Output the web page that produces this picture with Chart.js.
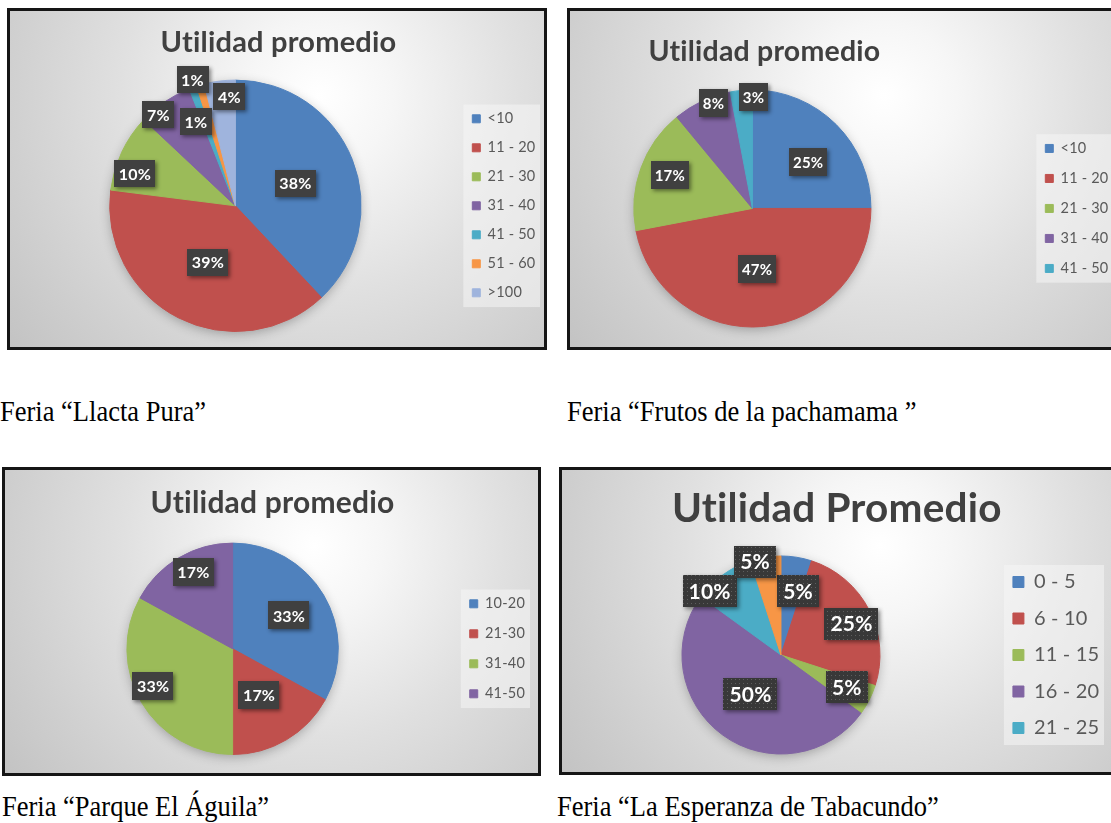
<!DOCTYPE html>
<html>
<head>
<meta charset="utf-8">
<script src="https://cdn.jsdelivr.net/npm/chart.js@4.4.1/dist/chart.umd.min.js"></script>
<style>
  html, body { margin: 0; padding: 0; overflow: hidden; background: #fff; }
  body { width: 1111px; height: 823px; position: relative; }
  .frame {
    position: absolute; box-sizing: border-box; overflow: hidden;
    border: 3px solid #151515;
    background: radial-gradient(circle farthest-corner at 58% 25%, #ffffff 0%, #f6f6f6 18%, #e0e0e0 50%, #c3c3c3 100%);
  }
  .frame canvas { position: absolute; top: 0; }
  .caption {
    position: absolute; font-family: "Liberation Serif", "Times New Roman", serif;
    font-size: 26.5px; line-height: 30px; color: #000; white-space: pre;
    transform: scaleY(1.12); transform-origin: 0 23px;
  }
</style>
</head>
<body>

<div class="frame" style="left:7px;top:8px;width:540px;height:342px">
  <canvas id="llacta" width="534" height="336" style="left:0;width:534px;height:336px"></canvas>
</div>
<div class="frame" style="left:567px;top:8px;width:547px;height:342px">
  <canvas id="frutos" width="642" height="336" style="left:-95px;width:642px;height:336px"></canvas>
</div>
<div class="frame" style="left:2px;top:467px;width:539px;height:309px">
  <canvas id="aguila" width="533" height="303" style="left:0;width:533px;height:303px"></canvas>
</div>
<div class="frame" style="left:559px;top:467px;width:555px;height:308px">
  <canvas id="tabacundo" width="549" height="302" style="left:0;width:549px;height:302px"></canvas>
</div>

<div class="caption" style="left:0px;top:397px">Feria “Llacta Pura”</div>
<div class="caption" style="left:567px;top:397px">Feria “Frutos de la pachamama ”</div>
<div class="caption" style="left:2px;top:792px">Feria “Parque El Águila”</div>
<div class="caption" style="left:557px;top:792px">Feria “La Esperanza de Tabacundo”</div>

<script>
// --- data (percent shares) ---
const llactaLabels = ["<10", "11 - 20", "21 - 30", "31 - 40", "41 - 50", "51 - 60", ">100"];
const llactaValues = [38, 39, 10, 7, 1, 1, 4];

const frutosLabels = ["<10", "11 - 20", "21 - 30", "31 - 40", "41 - 50"];
const frutosValues = [25, 47, 17, 8, 3];

const aguilaLabels = ["10-20", "21-30", "31-40", "41-50"];
const aguilaValues = [33, 17, 33, 17];

// last (orange) slice has no entry in the original legend
const tabacundoLabels = ["0 - 5", "6 - 10", "11 - 15", "16 - 20", "21 - 25", ""];
const tabacundoValues = [5, 25, 5, 50, 10, 5];

// Office palette
const BLUE = "#4f81bd", RED = "#c0504d", GREEN = "#9bbb59", PURPLE = "#8064a2",
      CYAN = "#4bacc6", ORANGE = "#f79646", LIGHTBLUE = "#9fb4dd";

Chart.defaults.font.family = "Lato, 'Open Sans', sans-serif";

// dotted texture for the last chart's label boxes
function dotPattern() {
  const c = document.createElement("canvas");
  c.width = 4; c.height = 4;
  const g = c.getContext("2d");
  g.fillStyle = "#383838"; g.fillRect(0, 0, 4, 4);
  g.fillStyle = "#5e5e5e"; g.fillRect(1, 1, 1, 1);
  return g.createPattern(c, "repeat");
}

// legend backdrop, pie shadow, dark percentage boxes (Excel style)
const excelLook = {
  id: "excelLook",
  afterLayout(chart, args, opts) {
    // nudge the title sideways where the original is off-centre
    const t = chart.titleBlock;
    if (t && opts.titleShift) { t.left += opts.titleShift; t.right += opts.titleShift; }
  },
  beforeDraw(chart) {
    const ctx = chart.ctx;
    ctx.letterSpacing = "0.2px"; // avoids Lato's "ti" ligature
    const hb = chart.legend && chart.legend.legendHitBoxes;
    if (!hb || !hb.length) return;
    let l = Infinity, t = Infinity, r = -Infinity, b = -Infinity;
    hb.forEach(h => {
      l = Math.min(l, h.left); t = Math.min(t, h.top);
      r = Math.max(r, h.left + h.width); b = Math.max(b, h.top + h.height);
    });
    ctx.save();
    ctx.fillStyle = "rgba(245,245,245,0.55)";
    ctx.fillRect(l - 9, t - 7, r - l + 15, b - t + 14);
    ctx.restore();
  },
  beforeDatasetsDraw(chart) {
    const arc = chart.getDatasetMeta(0).data[0];
    if (!arc) return;
    const ctx = chart.ctx;
    ctx.save();
    ctx.shadowColor = "rgba(0,0,0,0.30)";
    ctx.shadowBlur = 12;
    ctx.shadowOffsetY = 3;
    ctx.fillStyle = "#999";
    ctx.beginPath();
    ctx.arc(arc.x, arc.y, arc.outerRadius - 1, 0, Math.PI * 2);
    ctx.fill();
    ctx.restore();
  },
  afterDatasetsDraw(chart, args, opts) {
    const ctx = chart.ctx;
    const values = chart.data.datasets[0].data;
    const fill = opts.dotted ? dotPattern() : "#404040";
    chart.getDatasetMeta(0).data.forEach((arc, i) => {
      const { x, y, startAngle, endAngle, outerRadius } =
        arc.getProps(["x", "y", "startAngle", "endAngle", "outerRadius"], true);
      const a = (startAngle + endAngle) / 2 + (opts.shift[i] || 0) * Math.PI / 180;
      const d = outerRadius * opts.radial[i];
      const cx = x + Math.cos(a) * d, cy = y + Math.sin(a) * d;
      const text = values[i] + "%";
      ctx.save();
      ctx.font = "bold " + opts.size + "px Lato, sans-serif";
      const w = ctx.measureText(text).width + opts.padX * 2;
      const h = opts.size + opts.padY * 2;
      ctx.shadowColor = "rgba(0,0,0,0.45)";
      ctx.shadowBlur = 4;
      ctx.shadowOffsetX = 2;
      ctx.shadowOffsetY = 2;
      ctx.fillStyle = fill;
      ctx.fillRect(Math.round(cx - w / 2), Math.round(cy - h / 2), Math.round(w), Math.round(h));
      ctx.restore();
      ctx.save();
      ctx.font = "bold " + opts.size + "px Lato, sans-serif";
      ctx.fillStyle = "#ffffff";
      ctx.textAlign = "center";
      ctx.textBaseline = "middle";
      ctx.fillText(text, cx, cy + 1);
      ctx.restore();
    });
  }
};

function pie(id, labels, values, colors, o) {
  return new Chart(document.getElementById(id), {
    type: "pie",
    plugins: [excelLook],
    data: {
      labels: labels,
      datasets: [{ data: values, backgroundColor: colors, borderColor: colors, borderWidth: 1 }]
    },
    options: {
      responsive: false,
      animation: false,
      events: [],
      layout: { padding: o.padding },
      plugins: {
        title: {
          display: true,
          text: o.title,
          color: "#404040",
          fullSize: o.titleFull,
          font: { size: o.titleSize, weight: "bold" },
          padding: o.titlePad
        },
        legend: {
          position: "right",
          fullSize: false,
          labels: {
            color: "#595959",
            font: { size: o.legendSize },
            boxWidth: o.box,
            boxHeight: o.box,
            padding: o.legendPad,
            filter: item => item.text !== ""
          }
        },
        tooltip: { enabled: false },
        excelLook: o.labels
      }
    }
  });
}

pie("llacta", llactaLabels, llactaValues,
  [BLUE, RED, GREEN, PURPLE, CYAN, ORANGE, LIGHTBLUE], {
    title: "Utilidad promedio", titleSize: 29, titleFull: true,
    titlePad: { top: 14.6, bottom: 19.2 },
    padding: { left: 3, right: 0, top: 0, bottom: 15 },
    legendSize: 14.5, box: 8, legendPad: 14.5,
    labels: { size: 16, padX: 4.5, padY: 5.5,
      radial: [0.51, 0.50, 0.84, 0.95, 1.06, 0.74, 0.87],
      shift: [1, -1, -7.5, -6, 1, -9, 4] }
  });

pie("frutos", frutosLabels, frutosValues,
  [BLUE, RED, GREEN, PURPLE, CYAN], {
    title: "Utilidad promedio", titleSize: 28.5, titleFull: false,
    titlePad: { top: 23.9, bottom: 20.3 },
    padding: { left: 0, right: 0, top: 0, bottom: 19.5 },
    legendSize: 14.5, box: 8, legendPad: 15.5,
    labels: { size: 15, padX: 4, padY: 6.5, titleShift: 12,
      radial: [0.61, 0.51, 0.75, 0.95, 0.94],
      shift: [5.5, 1, 2, 5, 6] }
  });

pie("aguila", aguilaLabels, aguilaValues,
  [BLUE, RED, GREEN, PURPLE], {
    title: "Utilidad promedio", titleSize: 30, titleFull: true,
    titlePad: { top: 15, bottom: 21.6 },
    padding: { left: 6, right: 4, top: 0, bottom: 18 },
    legendSize: 14.5, box: 8, legendPad: 15.5,
    labels: { size: 16, padX: 4.5, padY: 6,
      radial: [0.62, 0.50, 0.83, 0.82],
      shift: [0, 0.6, 5.6, 3.7] }
  });

pie("tabacundo", tabacundoLabels, tabacundoValues,
  [BLUE, RED, GREEN, PURPLE, CYAN, ORANGE], {
    title: "Utilidad Promedio", titleSize: 40.5, titleFull: true,
    titlePad: { top: 14.7, bottom: 22.2 },
    padding: { left: 3.5, right: 3, top: 0, bottom: 17.5 },
    legendSize: 20, box: 11, legendPad: 16.5,
    labels: { size: 21, padX: 6, padY: 5.5, dotted: true,
      radial: [0.67, 0.78, 0.74, 0.50, 0.97, 0.98],
      shift: [6, 3, -1, 2, -12, -6.5] }
  });
</script>
</body>
</html>
